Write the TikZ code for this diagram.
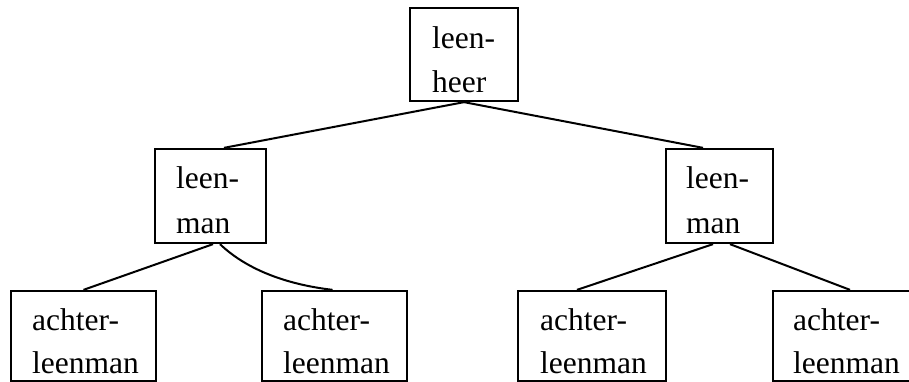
\documentclass[tikz,border=0pt]{standalone}
\usepackage{fontspec}
\setmainfont{Liberation Serif}
\usetikzlibrary{calc}
\begin{document}
\begin{tikzpicture}[x=1pt,y=-1pt,
  box/.style={draw,line width=2.3pt,inner sep=0pt,rectangle},
  lbl/.style={anchor=base west,inner sep=0pt,font=\fontsize{31.5}{36}\selectfont},
  conn/.style={line width=2pt}]
\clip (0,0) rectangle (909,382);
% boxes
\node[box,minimum width=108pt,minimum height=93pt] (top) at (464,54.5) {};
\node[box,minimum width=111pt,minimum height=94pt] (LL) at (210.5,196) {};
\node[box,minimum width=107pt,minimum height=94pt] (LR) at (719.5,196) {};
\node[box,minimum width=145pt,minimum height=90pt] (B1) at (83.5,336) {};
\node[box,minimum width=145pt,minimum height=90pt] (B2) at (334.5,336) {};
\node[box,minimum width=148pt,minimum height=90pt] (B3) at (592,336) {};
\node[box,minimum width=148pt,minimum height=90pt] (B4) at (847,336) {};
% texts
\node[lbl] (t1) at (432,49) {leen-};
\node[lbl] (t2) at (432,93) {heer};
\node[lbl] (l1) at (176,188) {leen-};
\node[lbl] (l2) at (176,233) {man};
\node[lbl] (r1) at (686,188) {leen-};
\node[lbl] (r2) at (686,233) {man};
\node[lbl] (a1) at (32,330) {achter-};
\node[lbl] (a2) at (32,373) {leenman};
\node[lbl] (b1) at (283,330) {achter-};
\node[lbl] (b2) at (283,373) {leenman};
\node[lbl] (c1) at (540,330) {achter-};
\node[lbl] (c2) at (540,373) {leenman};
\node[lbl] (d1) at (793,330) {achter-};
\node[lbl] (d2) at (793,373) {leenman};
% connectors
\draw[conn] (top.south) -- ($(LL.north)+(13.5,0)$);
\draw[conn] (top.south) -- ($(LR.north)+(-16.5,0)$);
\draw[conn] ($(LL.south)+(2.5,0)$) -- (B1.north);
\draw[conn] ($(LL.south)+(9.5,0)$) .. controls (245,268) and (283,284) .. ($(B2.north)+(-2,0)$);
\draw[conn] ($(LR.south)+(-6.5,0)$) -- ($(B3.north)+(-15,0)$);
\draw[conn] ($(LR.south)+(10.5,0)$) -- ($(B4.north)+(3,0)$);
\end{tikzpicture}
\end{document}
